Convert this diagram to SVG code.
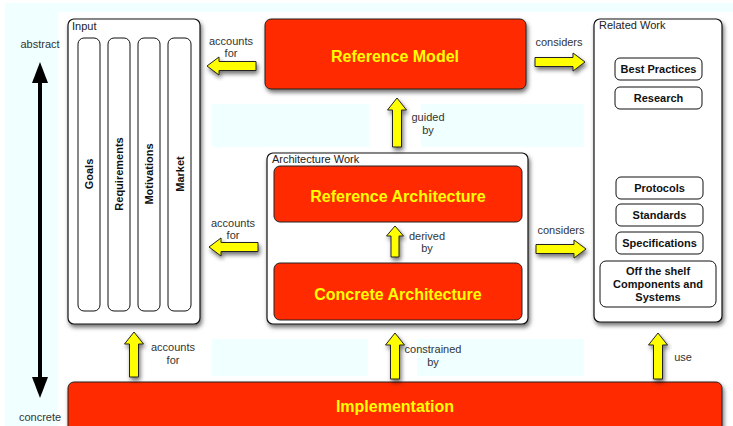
<svg xmlns="http://www.w3.org/2000/svg" width="733" height="426" viewBox="0 0 733 426">
<defs>
<filter id="sh" x="-10%" y="-10%" width="130%" height="140%">
<feDropShadow dx="1.5" dy="3" stdDeviation="2" flood-color="#000" flood-opacity="0.55"/>
</filter>
</defs>
<style>
.bg{fill:#f0ffff}
.box{fill:#fff;stroke:#111;stroke-width:1.2;filter:url(#sh)}
.inner{fill:#fff;stroke:#111;stroke-width:1}
.red{fill:#ff2a00;stroke:#222;stroke-width:1;filter:url(#sh)}
.redin{fill:#ff2a00;stroke:#222;stroke-width:1}
.arr{fill:#ffff00;stroke:#222;stroke-width:1;filter:url(#sh)}
.lbl{font-family:"Liberation Sans",Arial,sans-serif;font-size:11px;fill:#333;text-anchor:middle}
.ttl{font-family:"Liberation Sans",Arial,sans-serif;font-size:11px;fill:#222}
.big{font-family:"Liberation Sans",Arial,sans-serif;font-size:16px;font-weight:bold;fill:#ffff00;text-anchor:middle}
.bold{font-family:"Liberation Sans",Arial,sans-serif;font-size:11px;font-weight:bold;fill:#111;text-anchor:middle}
</style>
<rect x="0" y="0" width="733" height="426" fill="#fff"/>
<rect class="bg" x="5" y="3" width="728" height="423"/>
<rect x="58" y="12" width="675" height="414" fill="#fff"/>
<rect class="bg" x="212" y="104" width="157" height="43"/>
<rect class="bg" x="421" y="104" width="163" height="43"/>
<rect class="bg" x="212" y="339" width="156" height="37"/>
<rect class="bg" x="417" y="339" width="167" height="37"/>

<g id="axis">
<line x1="40" y1="80" x2="40" y2="380" stroke="#000" stroke-width="4"/>
<polygon points="40,62 48,83 32,83" fill="#000"/>
<polygon points="40,398 48,377 32,377" fill="#000"/>
<text class="lbl" x="40" y="48">abstract</text>
<text class="lbl" x="40" y="421">concrete</text>
</g>

<g id="input">
<rect class="box" x="68" y="19" width="132" height="305" rx="6"/>
<text class="ttl" x="72" y="30">Input</text>
<rect class="inner" x="78" y="38" width="22" height="273" rx="6"/>
<rect class="inner" x="108" y="38" width="22" height="273" rx="6"/>
<rect class="inner" x="138" y="38" width="22" height="273" rx="6"/>
<rect class="inner" x="168" y="38" width="23" height="273" rx="6"/>
<text class="bold" transform="translate(93,174) rotate(-90)">Goals</text>
<text class="bold" transform="translate(123,174) rotate(-90)">Requirements</text>
<text class="bold" transform="translate(153,174) rotate(-90)">Motivations</text>
<text class="bold" transform="translate(183.5,174) rotate(-90)">Market</text>
</g>

<g id="reference-model">
<rect class="red" x="265" y="19" width="261" height="70" rx="6"/>
<text class="big" x="395" y="62">Reference Model</text>
</g>

<g id="architecture-work">
<rect class="box" x="267" y="153" width="261" height="171" rx="6"/>
<text class="ttl" x="272" y="163">Architecture Work</text>
</g>
<g id="reference-architecture">
<rect class="redin" x="274" y="166" width="248" height="56" rx="6"/>
<text class="big" x="398" y="202">Reference Architecture</text>
</g>
<g id="concrete-architecture">
<rect class="redin" x="274" y="263" width="248" height="57" rx="6"/>
<text class="big" x="398" y="300">Concrete Architecture</text>
</g>

<g id="related-work">
<rect class="box" x="594" y="19" width="128" height="303" rx="6"/>
<text class="ttl" x="599" y="29">Related Work</text>
</g>
<g id="best-practices"><rect class="inner" x="615" y="58" width="87" height="22" rx="5"/><text class="bold" x="658.5" y="73">Best Practices</text></g>
<g id="research"><rect class="inner" x="615" y="87" width="87" height="22" rx="5"/><text class="bold" x="658.5" y="102">Research</text></g>
<g id="protocols"><rect class="inner" x="616" y="177" width="87" height="22" rx="5"/><text class="bold" x="659.5" y="192">Protocols</text></g>
<g id="standards"><rect class="inner" x="616" y="204" width="87" height="22" rx="5"/><text class="bold" x="659.5" y="219">Standards</text></g>
<g id="specifications"><rect class="inner" x="616" y="232" width="87" height="22" rx="5"/><text class="bold" x="659.5" y="247">Specifications</text></g>
<g id="off-the-shelf"><rect class="inner" x="600" y="261" width="116" height="46" rx="6"/>
<text class="bold" x="658" y="275">Off the shelf</text>
<text class="bold" x="658" y="288">Components and</text>
<text class="bold" x="658" y="301">Systems</text></g>

<g id="implementation">
<rect class="red" x="68" y="382" width="654" height="60" rx="6"/>
<text class="big" x="395" y="412">Implementation</text>
</g>

<g id="connectors">
<path class="arr" d="M207,66 L219,57 L219,61.5 L256,61.5 L256,70.5 L219,70.5 L219,75 Z"/>
<text class="lbl" x="231" y="45">accounts</text><text class="lbl" x="231" y="57">for</text>
<path class="arr" d="M585,62 L573,53 L573,57.5 L535,57.5 L535,66.5 L573,66.5 L573,71 Z"/>
<text class="lbl" x="559" y="46">considers</text>
<path class="arr" d="M397,98 L406.5,110 L401.5,110 L401.5,147 L392.5,147 L392.5,110 L387.5,110 Z"/>
<text class="lbl" x="428" y="121">guided</text><text class="lbl" x="428" y="134">by</text>
<path class="arr" d="M395,226 L403.5,236 L399,236 L399,257 L391,257 L391,236 L386.5,236 Z"/>
<text class="lbl" x="427" y="240">derived</text><text class="lbl" x="427" y="252">by</text>
<path class="arr" d="M209,247 L221,238 L221,242.5 L258,242.5 L258,251.5 L221,251.5 L221,256 Z"/>
<text class="lbl" x="233" y="227">accounts</text><text class="lbl" x="233" y="239">for</text>
<path class="arr" d="M586,249 L574,240 L574,244.5 L536,244.5 L536,253.5 L574,253.5 L574,258 Z"/>
<text class="lbl" x="561" y="234">considers</text>
<path class="arr" d="M134,332 L143.5,344 L138.5,344 L138.5,377 L129.5,377 L129.5,344 L124.5,344 Z"/>
<text class="lbl" x="173" y="351">accounts</text><text class="lbl" x="173" y="364">for</text>
<path class="arr" d="M395,333 L404.5,345 L399.5,345 L399.5,379 L390.5,379 L390.5,345 L385.5,345 Z"/>
<text class="lbl" x="433" y="353">constrained</text><text class="lbl" x="433" y="366">by</text>
<path class="arr" d="M658,333 L667.5,345 L662.5,345 L662.5,379 L653.5,379 L653.5,345 L648.5,345 Z"/>
<text class="lbl" x="683" y="361">use</text>
</g>
</svg>
